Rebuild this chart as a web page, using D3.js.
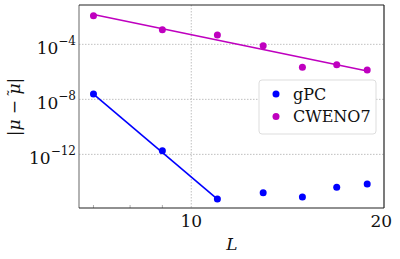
<!DOCTYPE html>
<html>
<head>
<meta charset="utf-8">
<script src="https://cdn.jsdelivr.net/npm/d3@7"></script>
<style>
  body { margin: 0; background: #fff; }
  svg text { font-family: "DejaVu Serif", serif; }
</style>
</head>
<body>
<div id="chart"></div>
<script>
// data
var levels = [7, 9, 11, 13, 15, 17, 19];
var gpcExp = [-7.61, -11.74, -15.25, -14.79, -15.1, -14.4, -14.16];
var cwenoExp = [-1.92, -2.94, -3.32, -4.1, -5.67, -5.48, -5.87];
// fitted lines (endpoints)
var gpcFitL = [7, 11];
var gpcFitExp = [-7.62, -15.25];
var cwenoFitL = [7, 19];
var cwenoFitExp = [-1.83, -5.94];
var yTickExp = [-4, -8, -12];
var xTicks = [10, 20];
var xMinor = [7, 8, 9];

var svgWidth = 400;
var svgHeight = 259;
var margin = { top: 5, right: 16, bottom: 51, left: 79 };
var width = svgWidth - margin.left - margin.right;
var height = svgHeight - margin.top - margin.bottom;

var blue = "#0000ff";
var magenta = "#bf00bf";

var svg = d3.select("#chart")
  .append("svg")
  .attr("width", svgWidth)
  .attr("height", svgHeight);

var chartGroup = svg.append("g")
  .attr("transform", `translate(${margin.left}, ${margin.top})`);

var x = d3.scaleLog().domain([6.64, 20.2]).range([0, width]);
var y = d3.scaleLog().domain([Math.pow(10, -15.9), Math.pow(10, -1.14)]).range([height, 0]);

// grid
chartGroup.selectAll(".hgrid")
  .data(yTickExp)
  .enter()
  .append("line")
  .attr("x1", 0).attr("x2", width)
  .attr("y1", d => y(Math.pow(10, d))).attr("y2", d => y(Math.pow(10, d)))
  .attr("stroke", "#b0b0b0").attr("stroke-width", 0.8).attr("stroke-dasharray", "1.5,1.5");

chartGroup.selectAll(".vgrid")
  .data(xTicks.slice(0, 1))
  .enter()
  .append("line")
  .attr("x1", d => x(d)).attr("x2", d => x(d))
  .attr("y1", 0).attr("y2", height)
  .attr("stroke", "#b0b0b0").attr("stroke-width", 0.8).attr("stroke-dasharray", "1.5,1.5");

// minor ticks on bottom
chartGroup.selectAll(".minor")
  .data(xMinor)
  .enter()
  .append("line")
  .attr("x1", d => x(d)).attr("x2", d => x(d))
  .attr("y1", height).attr("y2", height - 3)
  .attr("stroke", "#999").attr("stroke-width", 0.8);

// fit lines
var line = d3.line()
  .x(d => x(d[0]))
  .y(d => y(Math.pow(10, d[1])));

chartGroup.append("path")
  .datum(d3.zip(gpcFitL, gpcFitExp))
  .attr("d", line)
  .attr("fill", "none").attr("stroke", blue).attr("stroke-width", 1.6);

chartGroup.append("path")
  .datum(d3.zip(cwenoFitL, cwenoFitExp))
  .attr("d", line)
  .attr("fill", "none").attr("stroke", magenta).attr("stroke-width", 1.6);

// points
chartGroup.selectAll(".gpc")
  .data(d3.zip(levels, gpcExp))
  .enter()
  .append("circle")
  .attr("cx", d => x(d[0]))
  .attr("cy", d => y(Math.pow(10, d[1])))
  .attr("r", 3.5)
  .attr("fill", blue);

chartGroup.selectAll(".cweno")
  .data(d3.zip(levels, cwenoExp))
  .enter()
  .append("circle")
  .attr("cx", d => x(d[0]))
  .attr("cy", d => y(Math.pow(10, d[1])))
  .attr("r", 3.5)
  .attr("fill", magenta);

// spines
chartGroup.append("line").attr("x1", 0).attr("x2", 0).attr("y1", 0).attr("y2", height)
  .attr("stroke", "#808080").attr("stroke-width", 1.2);
chartGroup.append("line").attr("x1", 0).attr("x2", width).attr("y1", height).attr("y2", height)
  .attr("stroke", "#222").attr("stroke-width", 1.2);
chartGroup.append("line").attr("x1", 0).attr("x2", width).attr("y1", 0).attr("y2", 0)
  .attr("stroke", "#222").attr("stroke-width", 1.2);
chartGroup.append("line").attr("x1", width).attr("x2", width).attr("y1", 0).attr("y2", height)
  .attr("stroke", "#222").attr("stroke-width", 1.2);

// y tick labels
var yLab = chartGroup.selectAll(".ylab")
  .data(yTickExp)
  .enter()
  .append("text")
  .attr("x", -3)
  .attr("y", d => y(Math.pow(10, d)) + 10)
  .attr("text-anchor", "end")
  .attr("font-size", "17px")
  .attr("fill", "#111");
yLab.append("tspan").text("10");
yLab.append("tspan").attr("dy", -9).attr("font-size", "12px").text(d => "\u2212" + (-d));

// x tick labels
chartGroup.selectAll(".xlab")
  .data(xTicks)
  .enter()
  .append("text")
  .attr("x", d => x(d))
  .attr("y", height + 19)
  .attr("text-anchor", "middle")
  .attr("font-size", "17px")
  .attr("fill", "#111")
  .text(d => d);

// axis titles
chartGroup.append("text")
  .attr("x", 232 - margin.left)
  .attr("y", 250 - margin.top)
  .attr("text-anchor", "middle")
  .attr("font-size", "17px")
  .attr("font-style", "italic")
  .attr("fill", "#111")
  .text("L");

var yTitle = chartGroup.append("text")
  .attr("transform", "rotate(-90)")
  .attr("x", -(107 - margin.top))
  .attr("y", 20 - margin.left)
  .attr("text-anchor", "middle")
  .attr("font-size", "17px")
  .attr("fill", "#111");
yTitle.append("tspan").text("|");
yTitle.append("tspan").attr("font-style", "italic").text("\u03bc");
yTitle.append("tspan").text(" \u2212 ");
yTitle.append("tspan").attr("font-style", "italic").text("\u03bc");
yTitle.append("tspan").text("|");
// tilde over the second mu
chartGroup.append("text")
  .attr("transform", "rotate(-90)")
  .attr("x", -(107 - margin.top) + 14)
  .attr("y", 20 - margin.left - 1)
  .attr("text-anchor", "middle")
  .attr("font-size", "15px")
  .attr("fill", "#111")
  .text("\u02dc");

// legend
var legend = chartGroup.append("g")
  .attr("transform", `translate(${259 - margin.left}, ${80 - margin.top})`);
legend.append("rect")
  .attr("width", 117).attr("height", 54).attr("rx", 3)
  .attr("fill", "#fff").attr("stroke", "#ddd").attr("stroke-width", 1);
var series = [["gPC", blue], ["CWENO7", magenta]];
series.forEach(function(s, i) {
  legend.append("circle")
    .attr("cx", 17).attr("cy", 14 + i * 22.5).attr("r", 3.5).attr("fill", s[1]);
  legend.append("text")
    .attr("x", 34).attr("y", 19.5 + i * 22.5)
    .attr("font-size", "16px")
    .attr("fill", "#111")
    .text(s[0]);
});
</script>
</body>
</html>
